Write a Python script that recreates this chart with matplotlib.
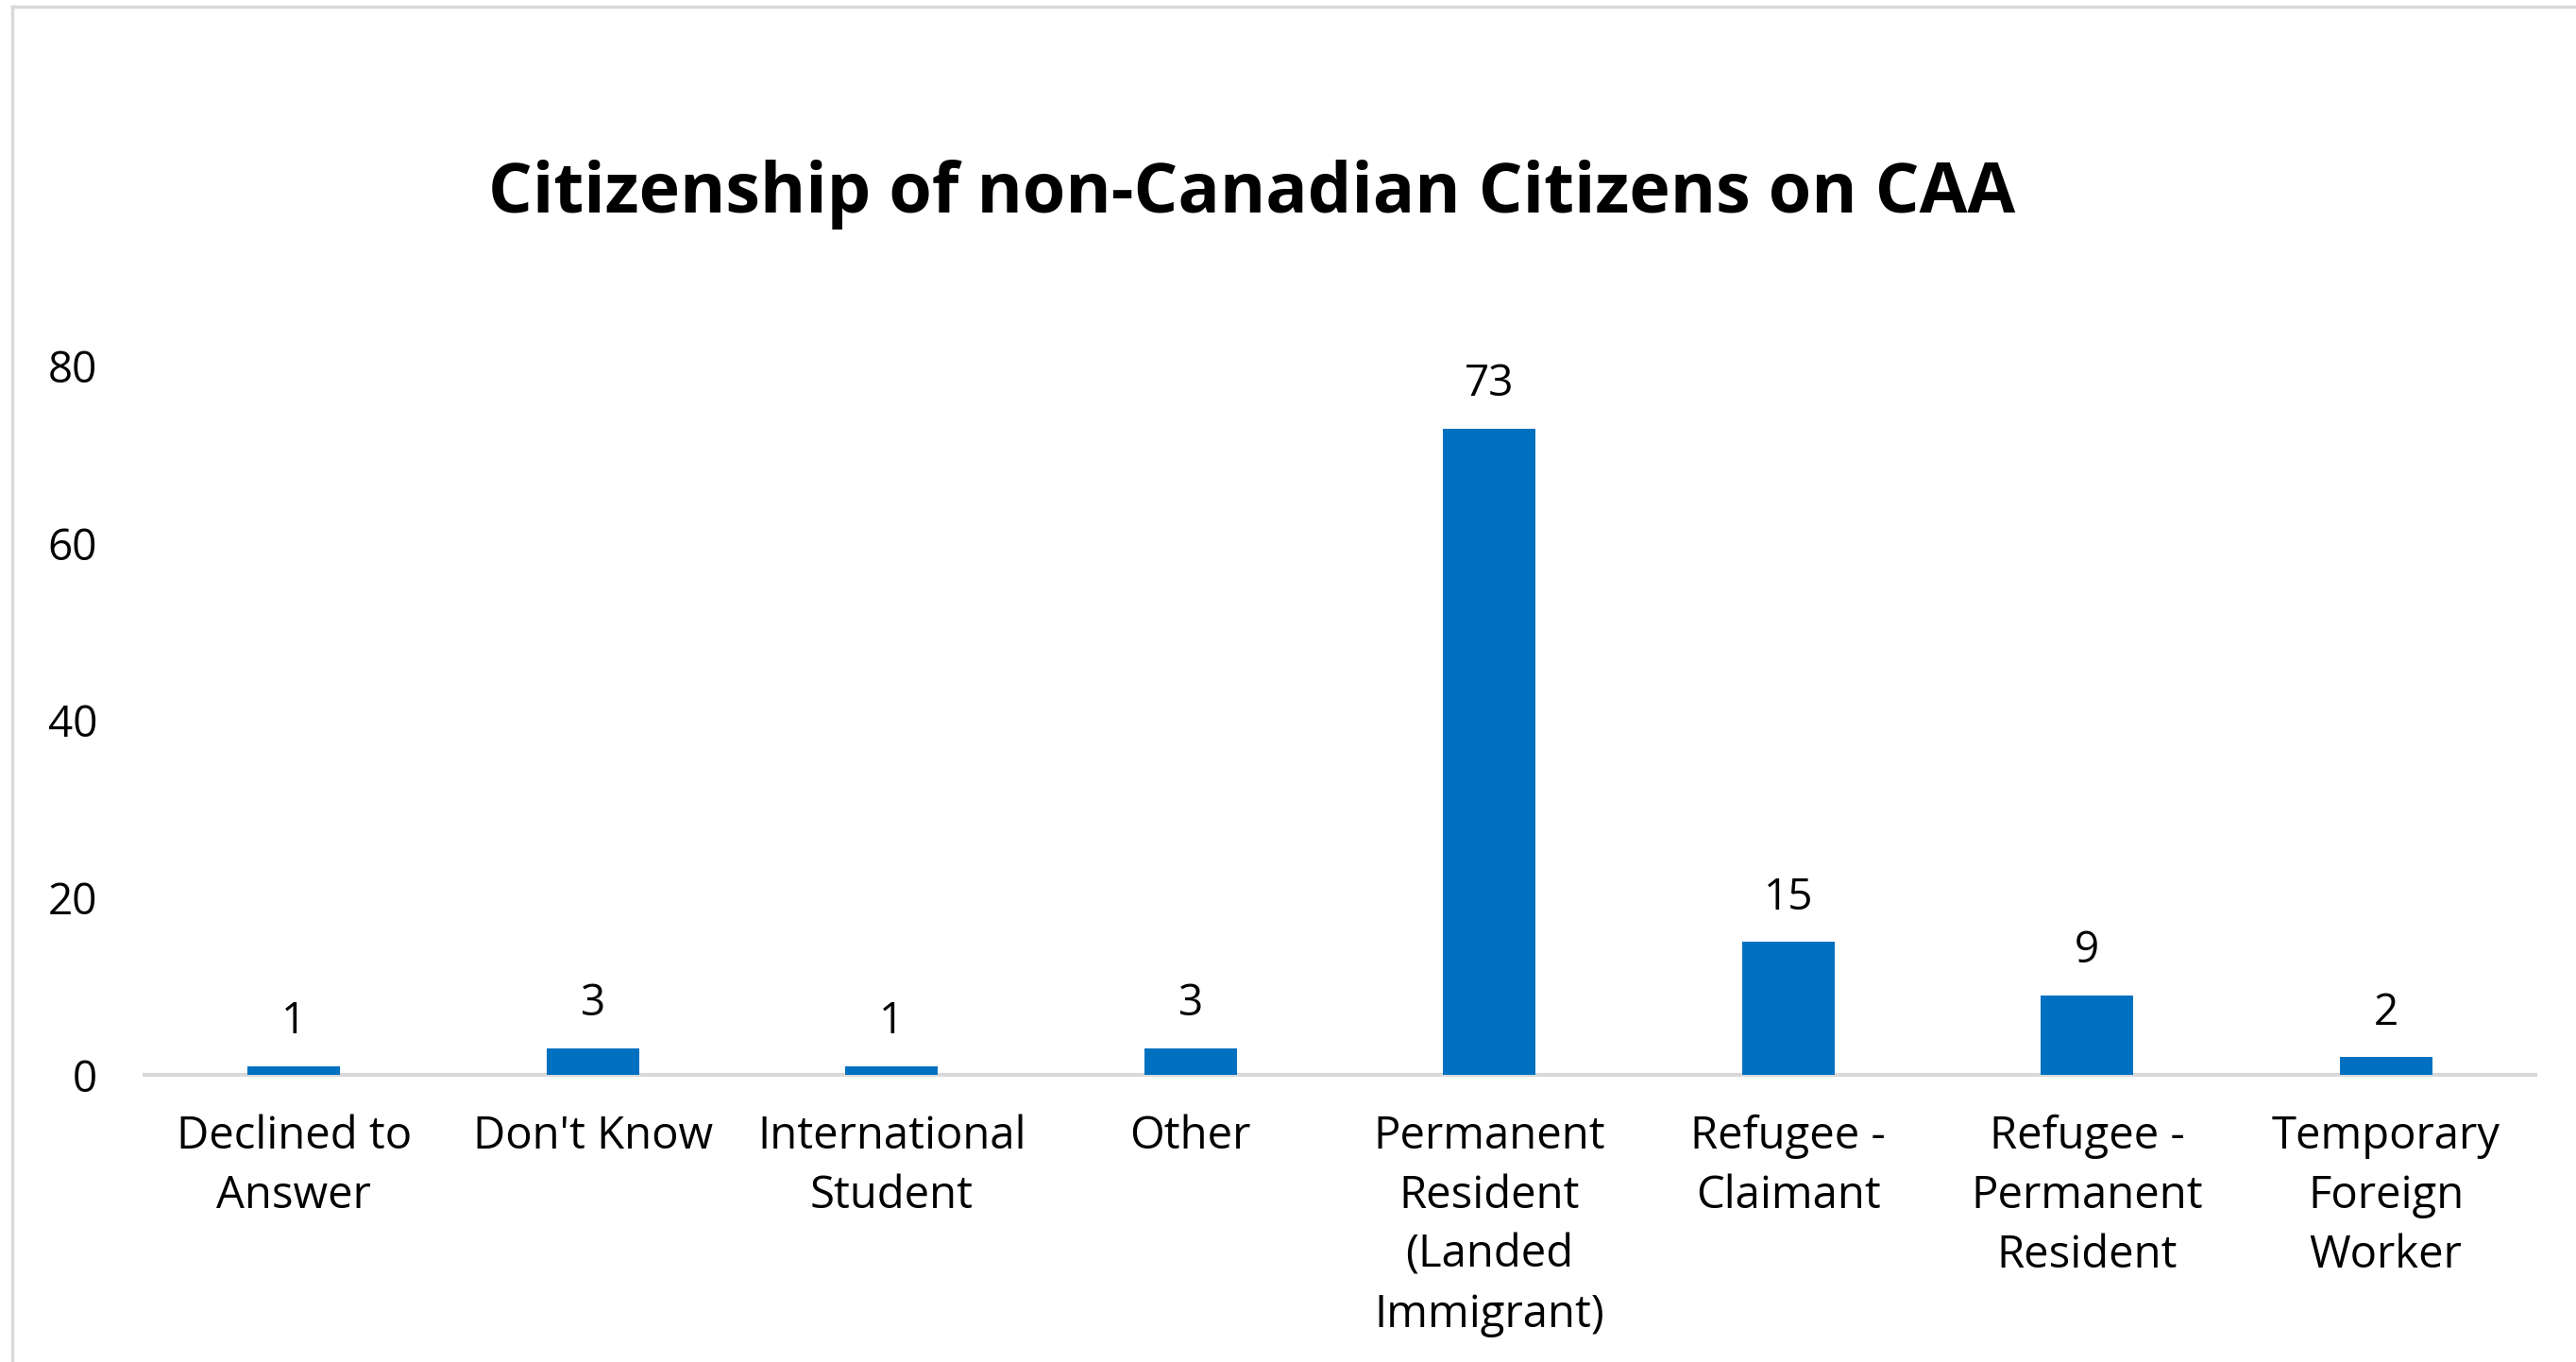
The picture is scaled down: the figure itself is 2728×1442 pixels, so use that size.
import matplotlib
matplotlib.use("Agg")
import matplotlib.pyplot as plt
from matplotlib.lines import Line2D

plt.rcParams['font.family'] = ['Open Sans', 'DejaVu Sans']

categories = [
    "Declined to\nAnswer",
    "Don't Know",
    "International\nStudent",
    "Other",
    "Permanent\nResident\n(Landed\nImmigrant)",
    "Refugee -\nClaimant",
    "Refugee -\nPermanent\nResident",
    "Temporary\nForeign\nWorker",
]
counts = [1, 3, 1, 3, 73, 15, 9, 2]
y_ticks = [0, 20, 40, 60, 80]

BAR_COLOR = "#0070C0"
GRID_GRAY = "#D9D9D9"

fig = plt.figure(figsize=(27.28, 14.42), dpi=100)
fig.patch.set_facecolor("white")

ax = fig.add_axes([0.0561, 0.2108, 0.9281, 0.5202])
x = list(range(len(categories)))
ax.bar(x, counts, width=0.31, color=BAR_COLOR, zorder=3)

for xi, v in zip(x, counts):
    ax.annotate(str(v), (xi, v), xytext=(0, 25), textcoords="offset points",
                ha="center", va="baseline", fontsize=33, color="black")

ax.set_xlim(-0.5, len(categories) - 0.5)
ax.set_ylim(0, 80)
ax.set_yticks(y_ticks)
ax.set_yticklabels([str(t) for t in y_ticks])
ax.set_xticks(x)
ax.set_xticklabels(categories, linespacing=1.42)

for side in ("top", "right", "left"):
    ax.spines[side].set_visible(False)
ax.spines["bottom"].set_color(GRID_GRAY)
ax.spines["bottom"].set_linewidth(3)
ax.spines["bottom"].set_zorder(2)

ax.tick_params(axis="y", length=0, pad=36, labelsize=33, labelcolor="black")
ax.tick_params(axis="x", length=0, pad=30, labelsize=34, labelcolor="black")

fig.text(0.486, 0.844, "Citizenship of non-Canadian Citizens on CAA",
         ha="center", va="baseline", fontsize=53, fontweight="bold", color="black")

# light frame on the left and top edges
fig.add_artist(Line2D([0.0046, 0.0046], [0.0, 0.995], transform=fig.transFigure,
                      color=GRID_GRAY, linewidth=2.5))
fig.add_artist(Line2D([0.0046, 1.0], [0.995, 0.995], transform=fig.transFigure,
                      color=GRID_GRAY, linewidth=2.5))

fig.savefig("out.png", dpi=100, facecolor="white")
